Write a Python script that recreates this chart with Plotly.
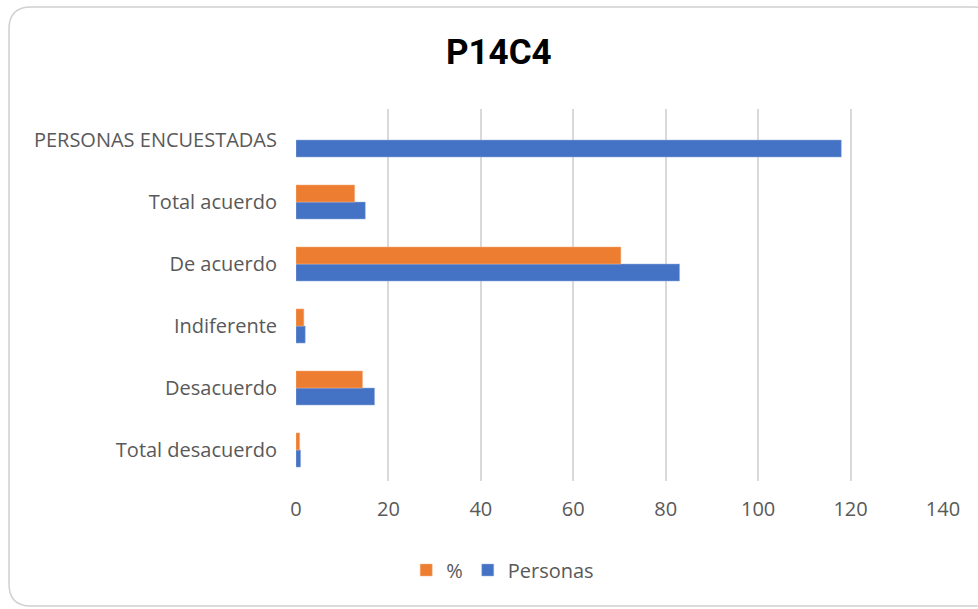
import plotly.graph_objects as go

# Data (bottom to top in plotly order)
categories = ['Total desacuerdo', 'Desacuerdo', 'Indiferente', 'De acuerdo',
              'Total acuerdo', 'PERSONAS ENCUESTADAS']
personas = [1, 17, 2, 83, 15, 118]
porcentaje = [0.8, 14.4, 1.7, 70.3, 12.7, None]
x_ticks = [0, 20, 40, 60, 80, 100, 120, 140]

W, H = 978, 609
L, R, T, B = 296, 35, 109, 128
PW, PH = W - L - R, H - T - B


def to_paper(px, py):
    """Convert page pixels to paper coordinates."""
    return (px - L) / PW, (H - B - py) / PH


def rounded_rect(x0, y0, x1, y1, r):
    pts = []
    ax, ay = to_paper(x0 + r, y0)
    pts.append(f'M {ax},{ay}')
    for (lx, ly), (cx, cy), (ex, ey) in [
        ((x1 - r, y0), (x1, y0), (x1, y0 + r)),
        ((x1, y1 - r), (x1, y1), (x1 - r, y1)),
        ((x0 + r, y1), (x0, y1), (x0, y1 - r)),
        ((x0, y0 + r), (x0, y0), (x0 + r, y0)),
    ]:
        a, b = to_paper(lx, ly)
        c, d = to_paper(cx, cy)
        e, f = to_paper(ex, ey)
        pts.append(f'L {a},{b} Q {c},{d} {e},{f}')
    return ' '.join(pts) + ' Z'


fig = go.Figure()
fig.add_trace(go.Bar(
    y=categories, x=personas, name='Personas', orientation='h',
    marker=dict(color='#4472C4', line=dict(color='#9db4e3', width=0.5)),
))
fig.add_trace(go.Bar(
    y=categories, x=porcentaje, name='%', orientation='h',
    marker=dict(color='#ED7D31', line=dict(color='#f5b48a', width=0.5)),
))

fig.update_layout(
    width=W, height=H,
    margin=dict(l=L, r=R, t=T, b=B),
    paper_bgcolor='white', plot_bgcolor='white',
    barmode='group', bargap=0.45, bargroupgap=0,
    font=dict(family='Open Sans, Noto Sans, sans-serif', size=20, color='#595959'),
    title=dict(text='<b>P14C4</b>', x=0.51, xref='container', xanchor='center',
               y=0.915, yref='container', yanchor='middle',
               font=dict(family='Roboto, sans-serif', size=35, color='#000000')),
    xaxis=dict(range=[0, 140], tickvals=x_ticks, showgrid=True, gridcolor='#d9d9d9',
               gridwidth=1.5, zeroline=False, showline=False, ticks='',
               ticklabelstandoff=14, fixedrange=True),
    yaxis=dict(showgrid=False, zeroline=False, showline=False, ticks='',
               ticklabelstandoff=18, fixedrange=True),
    legend=dict(orientation='h', x=0.514, xanchor='center', xref='container',
                y=0.064, yanchor='middle', yref='container', itemwidth=30,
                traceorder='reversed', font=dict(size=20, color='#595959')),
    shapes=[dict(type='path', xref='paper', yref='paper',
                 path=rounded_rect(9, 7, 995, 606, 22),
                 line=dict(color='#d0d0d0', width=1.5), layer='below')],
)

# drop the default 8px body margin so the figure sits at the page origin
fig.write_html('out.html', config={'displayModeBar': False},
               post_script="document.body.style.margin='0';")
